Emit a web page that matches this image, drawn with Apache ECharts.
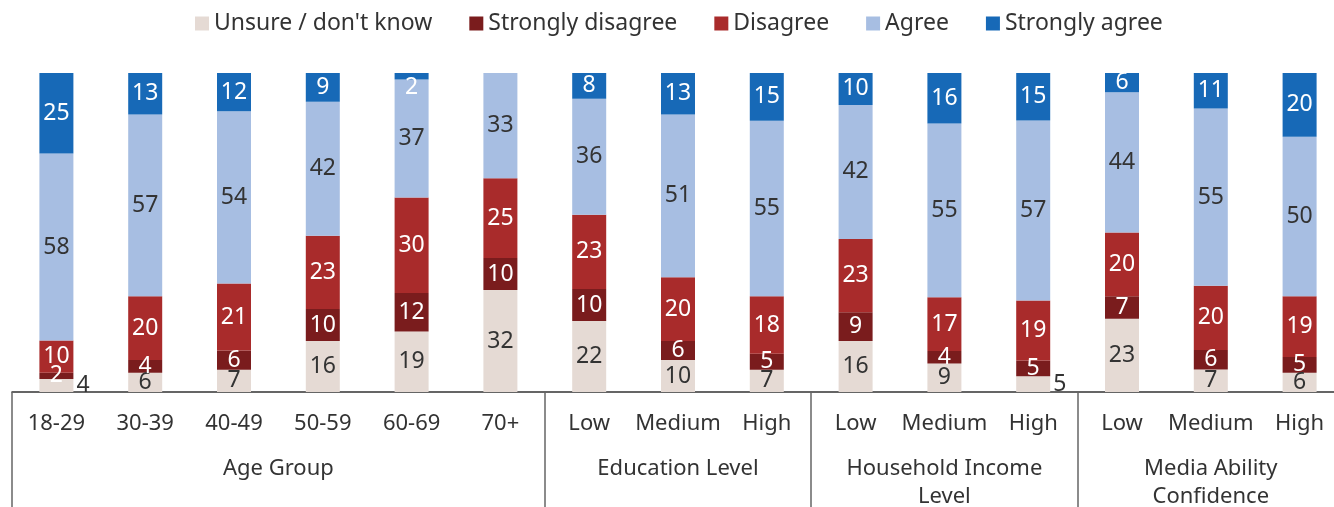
<!DOCTYPE html>
<html><head><meta charset="utf-8">
<script src="https://cdn.jsdelivr.net/npm/echarts@6/dist/echarts.min.js"></script>
<style>html,body{margin:0;padding:0;background:#fff}#c{width:1334px;height:507px}</style>
</head><body><div id="c"></div>
<script>
const categories = ['18-29','30-39','40-49','50-59','60-69','70+','Low','Medium','High','Low','Medium','High','Low','Medium','High'];
const groupNames = ['Age Group','Education Level','Household Income\nLevel','Media Ability\nConfidence'];
const groupCenters = [3, 7.5, 10.5, 13.5];
const groupBounds = [0, 6, 9, 12];
const seriesNames = ['Unsure / don\'t know','Strongly disagree','Disagree','Agree','Strongly agree'];
const unsure         = [4, 6, 7,16,19,32,22,10, 7,16, 9, 5,23, 7, 6];
const stronglyDis    = [2, 4, 6,10,12,10,10, 6, 5, 9, 4, 5, 7, 6, 5];
const disagree       = [10,20,21,23,30,25,23,20,18,23,17,19,20,20,19];
const agree          = [58,57,54,42,37,33,36,51,55,42,55,57,44,55,50];
const stronglyAgree  = [25,13,12, 9, 2, 0, 8,13,15,10,16,15, 6,11,20];

const colors = ['#E5DAD4','#7A1C1D','#A92B2B','#A7BEE2','#1769B7'];
const labelColors = ['#333','#fff','#fff','#333','#fff'];
const raw = [unsure, stronglyDis, disagree, agree, stronglyAgree];
const totals = categories.map((_, i) => raw.reduce((s, a) => s + a[i], 0));
const FONT = 'Noto Sans';

const series = raw.map((arr, si) => ({
  name: seriesNames[si],
  type: 'bar',
  stack: 'all',
  barWidth: 34,
  itemStyle: {color: colors[si]},
  label: {show: true, position: 'inside', color: labelColors[si], fontSize: 23, fontFamily: FONT,
          formatter: p => arr[p.dataIndex] > 0 ? String(arr[p.dataIndex]) : ''},
  data: arr.map((v, i) => {
    const d = {value: v / totals[i] * 100};
    if (si === 0 && v <= 5) d.label = {position: 'right', distance: 3, color: '#333'};
    if (si === 4 && v > 0 && v < 4) d.label = {position: 'inside', offset: [0, 11]};
    return d;
  })
}));

const chart = echarts.init(document.getElementById('c'));
chart.setOption({
  animation: false,
  legend: {
    top: 7, left: 190, icon: 'rect', itemWidth: 14, itemHeight: 14, itemGap: 37,
    textStyle: {fontSize: 23, fontFamily: FONT, color: '#333'},
    data: seriesNames
  },
  grid: {left: 12, right: -10, top: 73, bottom: 115, containLabel: false, outerBoundsMode: 'none'},
  xAxis: [{
    type: 'category',
    data: categories.map((c, i) => c + '|' + i),
    axisLine: {lineStyle: {color: '#333', width: 1.5}},
    axisTick: {show: false},
    axisLabel: {formatter: v => v.split('|')[0], fontSize: 22, fontFamily: FONT, color: '#333', margin: 21, interval: 0}
  }, {
    type: 'value', min: 0, max: 15, interval: 1.5, position: 'bottom',
    axisLine: {show: false},
    splitLine: {show: false},
    axisTick: {show: true, customValues: groupBounds, length: 115, lineStyle: {color: '#666', width: 1.5}},
    axisLabel: {customValues: groupCenters, fontSize: 22, fontFamily: FONT, color: '#333', margin: 63,
      verticalAlign: 'top', lineHeight: 28,
      formatter: v => { const k = groupCenters.indexOf(v); return k >= 0 ? groupNames[k] : ''; }}
  }],
  yAxis: {type: 'value', min: 0, max: 100, show: false},
  series: series
});
</script></body></html>
